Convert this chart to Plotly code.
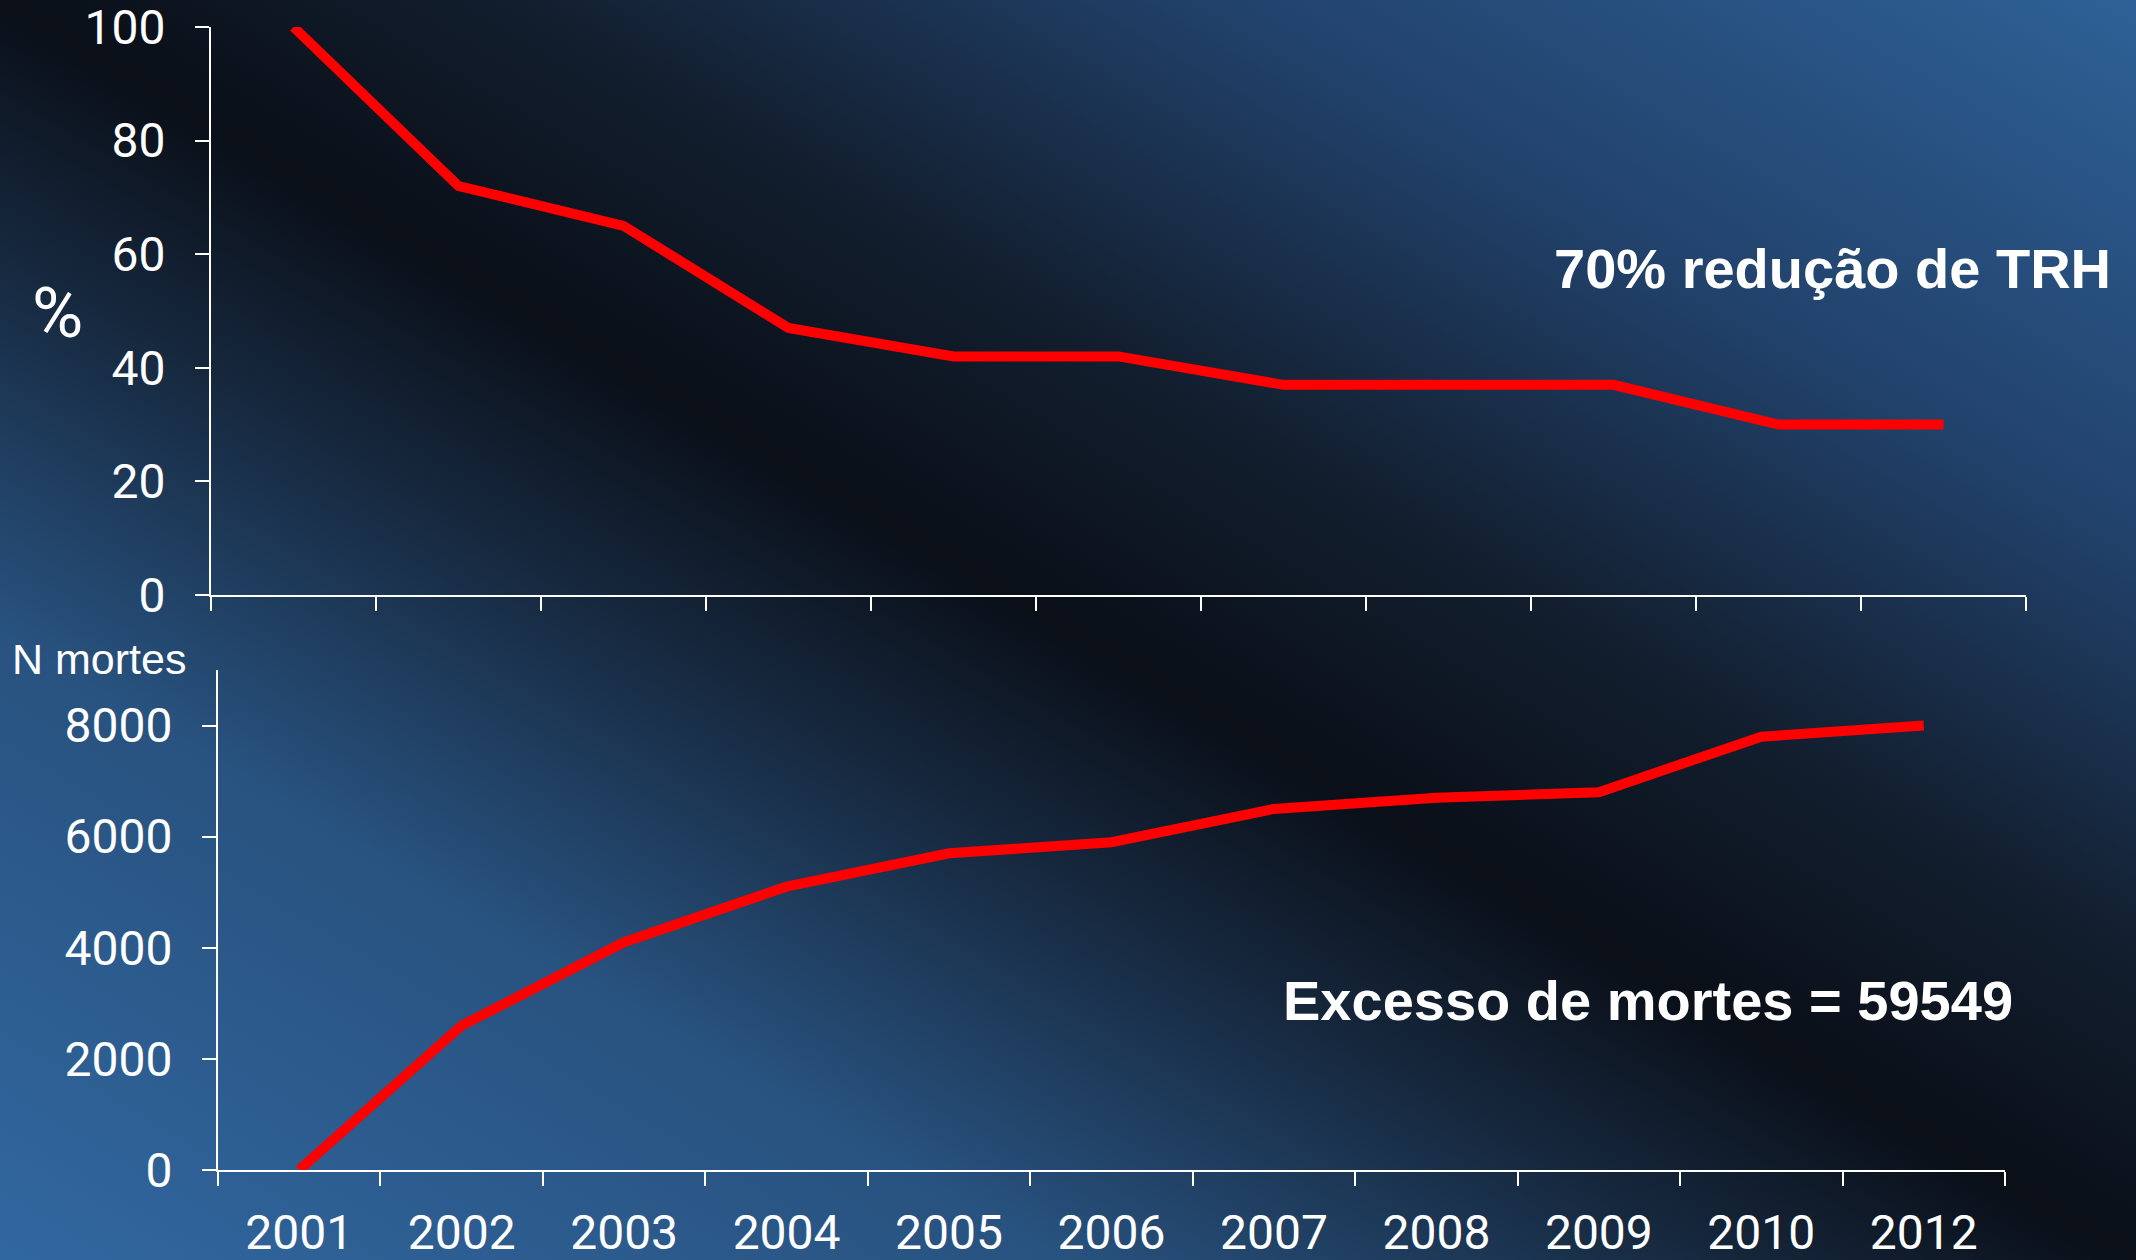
import base64
import plotly.graph_objects as go

# Years on the category axis (2011 is absent from the series)
years = ["2001", "2002", "2003", "2004", "2005", "2006",
         "2007", "2008", "2009", "2010", "2012"]

# Relative HRT use (%), 2001 = 100
trh_pct = [100, 72, 65, 47, 42, 42, 37, 37, 37, 30, 30]

# Cumulative excess deaths
n_mortes = [0, 2600, 4100, 5100, 5700, 5900, 6500, 6700, 6800, 7800, 8000]

pct_ticks = [0, 20, 40, 60, 80, 100]
mortes_ticks = [0, 2000, 4000, 6000, 8000]

W, H = 2136, 1260
LINE_RED = "#ff0000"
WHITE = "#ffffff"
TICK_FONT = dict(family="Roboto, 'DejaVu Sans Condensed', sans-serif", size=48, color=WHITE)
BOLD_FONT = dict(family="'Liberation Sans Narrow', 'Arial Narrow', 'Liberation Sans', Arial, sans-serif",
                 size=56, color=WHITE, weight="bold")

# Diagonal slide-style background: blue corners, dark band across the middle
svg = f"""<svg xmlns="http://www.w3.org/2000/svg" width="{W}" height="{H}" viewBox="0 0 {W} {H}" preserveAspectRatio="none">
<defs><linearGradient id="g" x1="0" y1="1" x2="1" y2="0">
<stop offset="0" stop-color="#3167a0"/>
<stop offset="0.25" stop-color="#28527f"/>
<stop offset="0.40" stop-color="#16283e"/>
<stop offset="0.50" stop-color="#0a0f18"/>
<stop offset="0.62" stop-color="#121e2e"/>
<stop offset="0.78" stop-color="#21416a"/>
<stop offset="1" stop-color="#2e6197"/>
</linearGradient></defs>
<rect x="0" y="0" width="{W}" height="{H}" fill="url(#g)"/>
</svg>"""
bg_uri = "data:image/svg+xml;base64," + base64.b64encode(svg.encode("utf-8")).decode("ascii")

fig = go.Figure()

fig.add_trace(go.Scatter(x=years, y=trh_pct, mode="lines",
                         line=dict(color=LINE_RED, width=10),
                         xaxis="x", yaxis="y", showlegend=False))
fig.add_trace(go.Scatter(x=years, y=n_mortes, mode="lines",
                         line=dict(color=LINE_RED, width=10),
                         xaxis="x2", yaxis="y2", showlegend=False))

axis_common = dict(showline=True, linecolor=WHITE, linewidth=2, showgrid=False,
                   zeroline=False, ticks="outside", tickcolor=WHITE, tickwidth=2,
                   ticklen=14, tickfont=TICK_FONT, automargin=False,
                   ticklabeloverflow="allow")

fig.update_layout(
    width=W, height=H,
    margin=dict(l=0, r=0, t=0, b=0, pad=0, autoexpand=False),
    paper_bgcolor="#0d1520",
    plot_bgcolor="rgba(0,0,0,0)",
    images=[dict(source=bg_uri, xref="paper", yref="paper", x=0, y=1,
                 sizex=1, sizey=1, sizing="stretch", xanchor="left",
                 yanchor="top", layer="below")],
    xaxis=dict(axis_common, domain=[211 / W, 2026 / W], anchor="y",
               type="category", tickson="boundaries", showticklabels=False,
               range=[-0.5, 10.5]),
    yaxis=dict(axis_common, domain=[1 - 595 / H, 1 - 27 / H], anchor="x",
               range=[0, 100], tickvals=pct_ticks, ticklabelstandoff=20),
    xaxis2=dict(axis_common, domain=[218 / W, 2005 / W], anchor="y2",
                type="category", tickson="boundaries", range=[-0.5, 10.5],
                ticklabelstandoff=19),
    yaxis2=dict(axis_common, domain=[1 - 1170 / H, 1 - 670 / H], anchor="x2",
                range=[0, 9000], tickvals=mortes_ticks, ticklabelstandoff=20),
    annotations=[
        dict(text="%", xref="paper", yref="paper", x=57 / W, y=1 - 313 / H,
             xanchor="center", yanchor="middle", showarrow=False,
             font=dict(family=TICK_FONT["family"], size=70, color=WHITE)),
        dict(text="N mortes", xref="paper", yref="paper", x=10 / W, y=1 - 659 / H,
             xanchor="left", yanchor="middle", showarrow=False,
             font=dict(family="'Liberation Sans', Arial, sans-serif", size=43, color=WHITE)),
        dict(text="70% redução de TRH", xref="paper", yref="paper",
             x=2113 / W, y=1 - 268 / H, xanchor="right", yanchor="middle",
             showarrow=False, font=BOLD_FONT),
        dict(text="Excesso de mortes = 59549", xref="paper", yref="paper",
             x=1648 / W, y=1 - 1000 / H, xanchor="center", yanchor="middle",
             showarrow=False, font=BOLD_FONT),
    ],
)

fig.write_html("out.html")
